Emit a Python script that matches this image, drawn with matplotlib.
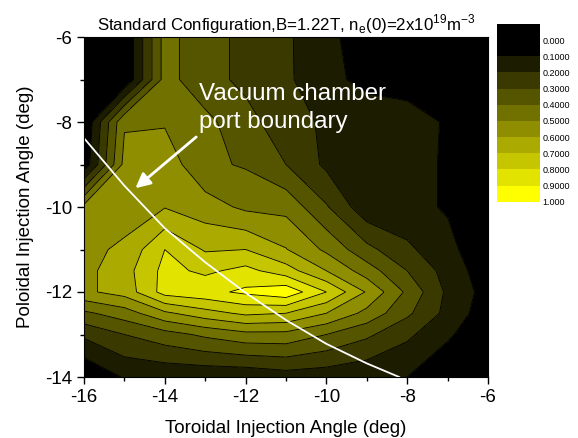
import numpy as np
import matplotlib
matplotlib.use('Agg')
import matplotlib.pyplot as plt
from matplotlib.colors import ListedColormap

plt.rcParams['font.family'] = ['Liberation Sans', 'DejaVu Sans']
plt.rcParams['mathtext.fontset'] = 'custom'
plt.rcParams['mathtext.rm'] = 'Liberation Sans'
plt.rcParams['axes.unicode_minus'] = False

# grid of the scan (deg)
toroidal = [-16, -15, -14, -13, -12, -11, -10, -9, -8, -7, -6]
poloidal = [-14, -13, -12.5, -12, -11.5, -11, -10, -9, -8, -7, -6]

# normalised signal, one row per poloidal angle (bottom to top)
row_m14 = [0.00, 0.11, 0.12, 0.12, 0.12, 0.15, 0.14, 0.12, 0.10, 0.00, 0.00]
row_m13 = [0.22, 0.30, 0.36, 0.42, 0.47, 0.47, 0.40, 0.32, 0.22, 0.12, 0.00]
row_m125 = [0.38, 0.45, 0.58, 0.66, 0.72, 0.70, 0.60, 0.47, 0.32, 0.17, 0.04]
row_m12 = [0.58, 0.64, 0.84, 0.87, 0.92, 0.97, 0.80, 0.59, 0.38, 0.18, 0.06]
row_m115 = [0.57, 0.66, 0.83, 0.78, 0.83, 0.745, 0.60, 0.45, 0.30, 0.16, 0.04]
row_m11 = [0.57, 0.62, 0.80, 0.69, 0.70, 0.605, 0.48, 0.33, 0.22, 0.13, 0.02]
row_m10 = [0.53, 0.55, 0.595, 0.545, 0.48, 0.47, 0.31, 0.13, 0.13, 0.09, 0.00]
row_m9 = [0.03, 0.53, 0.56, 0.42, 0.39, 0.30, 0.18, 0.14, 0.13, 0.09, 0.00]
row_m8 = [0.00, 0.49, 0.49, 0.43, 0.33, 0.25, 0.18, 0.14, 0.14, 0.09, 0.00]
row_m7 = [0.00, 0.00, 0.44, 0.33, 0.28, 0.22, 0.12, 0.08, 0.06, 0.00, 0.00]
row_m6 = [0.00, 0.00, 0.44, 0.33, 0.28, 0.22, 0.11, 0.08, 0.02, 0.00, 0.00]

levels = [0.0, 0.1, 0.2, 0.3, 0.4, 0.5, 0.6, 0.7, 0.8, 0.9, 1.0]
level_labels = ['0.000', '0.1000', '0.2000', '0.3000', '0.4000', '0.5000',
                '0.6000', '0.7000', '0.8000', '0.9000', '1.000']
band_colors = ['#000000', '#1c1c00', '#393900', '#555500', '#717100',
               '#8e8e00', '#aaaa00', '#c6c600', '#e3e300', '#ffff00']

# vacuum chamber port boundary
port_x = [-16, -15, -14, -13, -12, -11, -10, -9, -8.2]
port_y = [-8.38, -9.5, -10.5, -11.3, -12.02, -12.66, -13.22, -13.68, -14.0]

Z = np.array([row_m14, row_m13, row_m125, row_m12, row_m115, row_m11,
              row_m10, row_m9, row_m8, row_m7, row_m6])
X, Y = np.meshgrid(toroidal, poloidal)

cmap = ListedColormap(band_colors)
cmap.set_under('#000000')
cmap.set_over('#ffff00')

fig = plt.figure(figsize=(5.78, 4.38), dpi=100)
ax = fig.add_axes([84 / 578, 61 / 438, 404 / 578, 340 / 438])

ax.contourf(X, Y, Z, levels=levels, cmap=cmap, extend='both')
ax.contour(X, Y, Z, levels=levels[1:-1], colors='black', linewidths=0.6)

ax.plot(port_x, port_y, color='white', lw=1.3)
ax.annotate('', xy=(-14.78, -9.6), xytext=(-13.17, -8.31),
            arrowprops=dict(arrowstyle='-|>', color='white', lw=2,
                            mutation_scale=22))
ax.text(-13.15, -7.48, 'Vacuum chamber', color='white', fontsize=17.4)
ax.text(-13.15, -8.13, 'port boundary', color='white', fontsize=17.4)

ax.set_xlim(-16, -6)
ax.set_ylim(-14, -6)
ax.set_xticks([-16, -14, -12, -10, -8, -6])
ax.set_xticks([-15, -13, -11, -9, -7], minor=True)
ax.set_yticks([-14, -12, -10, -8, -6])
ax.set_yticks([-13, -11, -9, -7], minor=True)
ax.tick_params(which='major', length=5, width=1, labelsize=13.5)
ax.tick_params(which='minor', length=3, width=1)
ax.set_xlabel('Toroidal Injection Angle (deg)', fontsize=13.5, labelpad=10)
ax.set_ylabel('Poloidal Injection Angle (deg)', fontsize=13.5, labelpad=8)
ax.set_title('Standard Configuration,B=1.22T, n$_\\mathregular{e}$(0)=2x10$^\\mathregular{19}$m$^\\mathregular{-3}$',
             fontsize=12.2, pad=5)

# legend of the bands, 0 at the top
cax = fig.add_axes([497 / 578, (438 - 201.7) / 438, 43 / 578, 177.7 / 438])
box_bottoms = [-0.1] + levels[:-1]
box_colors = ['#000000'] + band_colors
cax.bar([0] * len(box_bottoms), [0.1] * len(box_bottoms), width=1,
        bottom=box_bottoms, color=box_colors, align='edge')
cax.set_xlim(0, 1)
cax.set_ylim(1.0, -0.1)
cax.set_xticks([])
cax.set_yticks(levels)
cax.set_yticklabels(level_labels)
cax.yaxis.tick_right()
cax.tick_params(length=0, labelsize=6.5, pad=2)
for s in cax.spines.values():
    s.set_visible(False)

fig.savefig('out.png', dpi=100)
